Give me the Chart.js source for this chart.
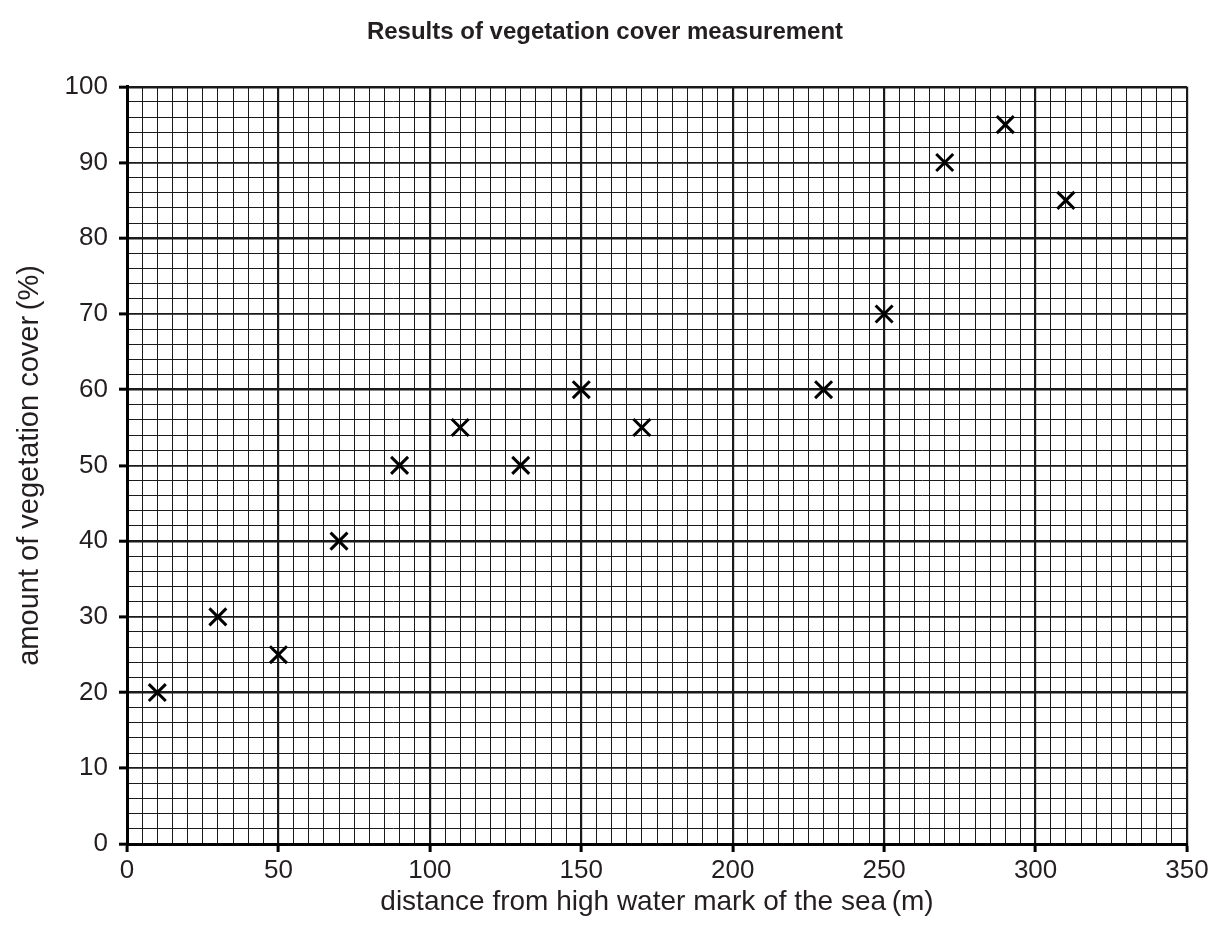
<!DOCTYPE html>
<html>
<head>
<meta charset="utf-8">
<script src="https://cdn.jsdelivr.net/npm/chart.js@4"></script>
<style>
  html, body { margin: 0; padding: 0; background: #fff; }
  #wrap { width: 1216px; height: 942px; }
</style>
</head>
<body>
<div id="wrap"><canvas id="c" width="1216" height="942"></canvas></div>
<script>
const distances = [10, 30, 50, 70, 90, 110, 130, 150, 170, 230, 250, 270, 290, 310];
const coverPercent = [20, 30, 25, 40, 50, 55, 50, 60, 55, 60, 70, 90, 95, 85];
const xTickLabels = [0, 50, 100, 150, 200, 250, 300, 350];
const yTickLabels = [0, 10, 20, 30, 40, 50, 60, 70, 80, 90, 100];

const chartTitle = 'Results of vegetation cover measurement';
const xTitle = 'distance from high water mark of the sea\u2009(m)';
const yTitle = 'amount of vegetation cover\u2009(%)';

const points = distances.map((d, i) => ({ x: d, y: coverPercent[i] }));
const FONT = "'Liberation Sans', Arial, sans-serif";

const whiteBg = {
  id: 'whiteBg',
  beforeDraw(chart) {
    const ctx = chart.ctx;
    ctx.save();
    ctx.fillStyle = '#fff';
    ctx.fillRect(0, 0, chart.width, chart.height);
    ctx.restore();
  }
};

new Chart(document.getElementById('c'), {
  type: 'scatter',
  data: {
    datasets: [{
      data: points,
      pointStyle: 'crossRot',
      pointRadius: 12,
      pointHoverRadius: 12,
      borderColor: '#000',
      backgroundColor: '#000',
      borderWidth: 3,
      showLine: false
    }]
  },
  options: {
    responsive: false,
    animation: false,
    events: [],
    layout: { padding: { top: 0, right: 29, bottom: 0, left: 23 } },
    plugins: {
      legend: { display: false },
      tooltip: { enabled: false },
      title: {
        display: true,
        text: chartTitle,
        color: '#231f20',
        font: { family: FONT, size: 24, weight: 'bold' },
        padding: { top: 18, bottom: 40 }
      }
    },
    scales: {
      x: {
        type: 'linear',
        min: 0,
        max: 350,
        afterFit(s) { s.height = 98; },
        ticks: {
          stepSize: 5,
          autoSkip: false,
          maxRotation: 0,
          color: '#231f20',
          padding: 3,
          font: { family: FONT, size: 26 },
          callback: v => xTickLabels.includes(Math.round(v)) ? String(Math.round(v)) : ''
        },
        grid: {
          color: '#1a1a1a',
          lineWidth: ctx => (Math.round(ctx.tick.value) % 50 === 0 ? 2.2 : 1),
          tickLength: 8,
          tickColor: ctx => (Math.round(ctx.tick.value) % 50 === 0 ? '#000' : 'rgba(0,0,0,0)'),
          tickWidth: 3
        },
        border: { display: true, color: '#000', width: 3 },
        title: {
          display: true,
          text: xTitle,
          color: '#231f20',
          font: { family: FONT, size: 28 },
          padding: { top: 0, bottom: 23 }
        }
      },
      y: {
        type: 'linear',
        min: 0,
        max: 100,
        afterFit(s) { s.width = 104; },
        ticks: {
          stepSize: 2,
          autoSkip: false,
          color: '#231f20',
          padding: 11,
          font: { family: FONT, size: 26 },
          callback: v => yTickLabels.includes(Math.round(v)) ? String(Math.round(v)) : ''
        },
        grid: {
          color: '#1a1a1a',
          lineWidth: ctx => {
            const v = Math.round(ctx.tick.value);
            if (v % 20 === 0) return 2.4;
            if (v % 10 === 0) return 1.8;
            return 1;
          },
          tickLength: 8,
          tickColor: ctx => (Math.round(ctx.tick.value) % 10 === 0 ? '#000' : 'rgba(0,0,0,0)'),
          tickWidth: 3
        },
        border: { display: true, color: '#000', width: 3 },
        title: {
          display: true,
          text: yTitle,
          color: '#231f20',
          font: { family: FONT, size: 29 },
          padding: { top: -10.5, bottom: 0 }
        }
      }
    }
  },
  plugins: [whiteBg]
});
</script>
</body>
</html>
